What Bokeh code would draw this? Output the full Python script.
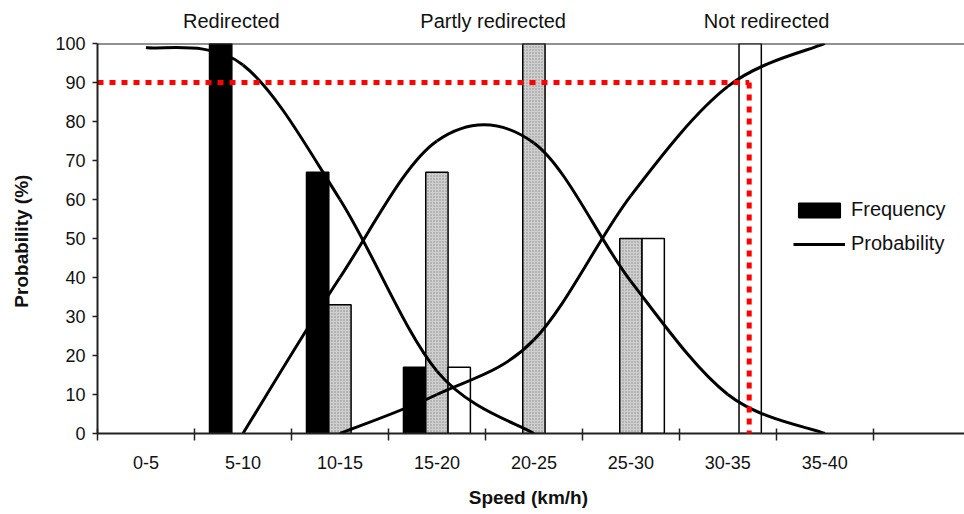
from bokeh.plotting import figure
from bokeh.models import (Range1d, FixedTicker, LinearAxis, Span, Arrow,
                          Legend, LegendItem, ColumnDataSource)
from bokeh.embed import file_html
from bokeh.resources import INLINE

# ---------------- data ----------------
categories = ["0-5", "5-10", "10-15", "15-20", "20-25", "25-30", "30-35", "35-40"]
category_width_kmh = 5

redirected_freq = [0, 100, 67, 17, 0, 0, 0, 0]
partly_freq = [0, 0, 33, 67, 100, 50, 0, 0]
not_freq = [0, 0, 0, 17, 0, 50, 100, 0]

# probability curves, value at the centre of each speed class
redirected_prob_classes = ["0-5", "5-10", "10-15", "15-20", "20-25"]
redirected_prob = [99, 94.5, 60, 16, 0]
partly_prob_classes = ["5-10", "10-15", "15-20", "20-25", "25-30", "30-35", "35-40"]
partly_prob = [0, 40, 75, 74.5, 39, 10, 0]
not_prob_classes = ["10-15", "15-20", "20-25", "25-30", "30-35", "35-40"]
not_prob = [0, 10, 24, 61, 89, 100]

group_labels = ["Redirected", "Partly redirected", "Not redirected"]
group_label_speed = [6.9, 20.4, 34.5]

threshold_probability = 90
threshold_speed = 33.6

y_ticks = list(range(0, 101, 10))

FONT = "Liberation Sans"
INK = "#111111"

# --------------- helpers ---------------
def class_center(c):
    return categories.index(c) * category_width_kmh + category_width_kmh / 2

centers = [class_center(c) for c in categories]
bounds = [i * category_width_kmh for i in range(len(categories) + 2)]


def bezier_source(classes, vals):
    xs = [class_center(c) for c in classes]
    pts = list(zip(xs, vals))
    n = len(pts)
    d = dict(x0=[], y0=[], x1=[], y1=[], cx0=[], cy0=[], cx1=[], cy1=[])
    for i in range(n - 1):
        p0 = pts[i - 1] if i > 0 else pts[i]
        p1 = pts[i]
        p2 = pts[i + 1]
        p3 = pts[i + 2] if i + 2 < n else pts[i + 1]
        d["x0"].append(p1[0]); d["y0"].append(p1[1])
        d["x1"].append(p2[0]); d["y1"].append(p2[1])
        d["cx0"].append(p1[0] + (p2[0] - p0[0]) / 6)
        d["cy0"].append(p1[1] + (p2[1] - p0[1]) / 6)
        d["cx1"].append(p2[0] - (p3[0] - p1[0]) / 6)
        d["cy1"].append(p2[1] - (p3[1] - p1[1]) / 6)
    return ColumnDataSource(d)


def bar_source(vals, offset):
    xs = [centers[i] + offset for i, v in enumerate(vals) if v > 0]
    tops = [v for v in vals if v > 0]
    return ColumnDataSource(dict(x=xs, top=tops))

# --------------- figure ---------------
x_end = 44.7
p = figure(width=964, height=510, x_range=Range1d(0, x_end), y_range=Range1d(0, 100),
           output_backend="svg", toolbar_location=None,
           min_border_left=97, min_border_right=0, min_border_top=43, min_border_bottom=77)
p.xgrid.visible = False
p.ygrid.visible = False
p.outline_line_color = None
p.background_fill_color = "white"
p.border_fill_color = "white"

bw = 1.15
r_black = p.vbar(x="x", top="top", width=bw, source=bar_source(redirected_freq, -bw),
                 fill_color="black", line_color="black", line_width=1.5)
p.vbar(x="x", top="top", width=bw, source=bar_source(partly_freq, 0),
       fill_color="#cfcfcf", line_color="black", line_width=1.5,
       hatch_pattern="dot", hatch_color="#8a8a8a", hatch_scale=3, hatch_weight=1)
p.vbar(x="x", top="top", width=bw, source=bar_source(not_freq, bw),
       fill_color="white", line_color="black", line_width=1.5)

curve_kw = dict(line_color="black", line_width=3)
r_curve = p.bezier(x0="x0", y0="y0", x1="x1", y1="y1", cx0="cx0", cy0="cy0",
                   cx1="cx1", cy1="cy1", source=bezier_source(redirected_prob_classes, redirected_prob), **curve_kw)
p.bezier(x0="x0", y0="y0", x1="x1", y1="y1", cx0="cx0", cy0="cy0",
         cx1="cx1", cy1="cy1", source=bezier_source(partly_prob_classes, partly_prob), **curve_kw)
p.bezier(x0="x0", y0="y0", x1="x1", y1="y1", cx0="cx0", cy0="cy0",
         cx1="cx1", cy1="cy1", source=bezier_source(not_prob_classes, not_prob), **curve_kw)

# top frame line
p.add_layout(Span(location=100, dimension="width", line_color="#222222", line_width=2))

# red threshold lines
red_kw = dict(line_color="#ff0000", line_width=5, line_dash="6 6")
p.line(x=[0, threshold_speed], y=[threshold_probability, threshold_probability], **red_kw)
p.add_layout(Arrow(end=None, x_start=threshold_speed, y_start=threshold_probability,
                   x_end=threshold_speed, y_end=-9, **red_kw))

# x axis
xa = p.xaxis[0]
xa.ticker = FixedTicker(ticks=centers, minor_ticks=bounds)
xa.major_label_overrides = {c: lab for c, lab in zip(centers, categories)}
xa.major_tick_in = 0
xa.major_tick_out = 0
xa.minor_tick_in = 5
xa.minor_tick_out = 7
xa.minor_tick_line_color = "#222222"
xa.minor_tick_line_width = 1.5
xa.axis_line_color = "#222222"
xa.axis_line_width = 2
xa.major_label_text_font = FONT
xa.major_label_text_font_size = "18px"
xa.major_label_text_color = INK
xa.major_label_standoff = 15
xa.axis_label = "Speed  (km/h)"
xa.axis_label_text_font = FONT
xa.axis_label_text_font_size = "19px"
xa.axis_label_text_font_style = "bold"
xa.axis_label_text_color = INK
xa.axis_label_standoff = 15

# y axis
ya = p.yaxis[0]
ya.ticker = FixedTicker(ticks=y_ticks, minor_ticks=[])
ya.bounds = (0, 100)
ya.major_tick_in = 0
ya.major_tick_out = 5
ya.major_tick_line_color = "#222222"
ya.major_tick_line_width = 1.5
ya.axis_line_color = "#222222"
ya.axis_line_width = 2
ya.major_label_text_font = FONT
ya.major_label_text_font_size = "18px"
ya.major_label_text_color = INK
ya.major_label_standoff = 7
ya.axis_label = "Probability  (%)"
ya.axis_label_text_font = FONT
ya.axis_label_text_font_size = "19px"
ya.axis_label_text_font_style = "bold"
ya.axis_label_text_color = INK
ya.axis_label_standoff = 20

# group labels above
ta = LinearAxis(ticker=FixedTicker(ticks=group_label_speed, minor_ticks=[]))
ta.major_label_overrides = {s: lab for s, lab in zip(group_label_speed, group_labels)}
ta.axis_line_color = None
ta.major_tick_line_color = None
ta.minor_tick_line_color = None
ta.major_label_text_font = FONT
ta.major_label_text_font_size = "20px"
ta.major_label_text_color = INK
ta.major_label_standoff = 6
p.add_layout(ta, "above")

# legend
legend = Legend(items=[LegendItem(label="Frequency", renderers=[r_black]),
                       LegendItem(label="Probability", renderers=[r_curve])],
                location=(696, 178), orientation="vertical",
                glyph_width=52, glyph_height=18, label_standoff=6, spacing=11,
                padding=0, margin=0, border_line_color=None, background_fill_alpha=0,
                label_text_font=FONT, label_text_font_size="20px", label_text_color=INK)
p.add_layout(legend, "center")

open("out.html", "w").write(file_html(p, INLINE))
